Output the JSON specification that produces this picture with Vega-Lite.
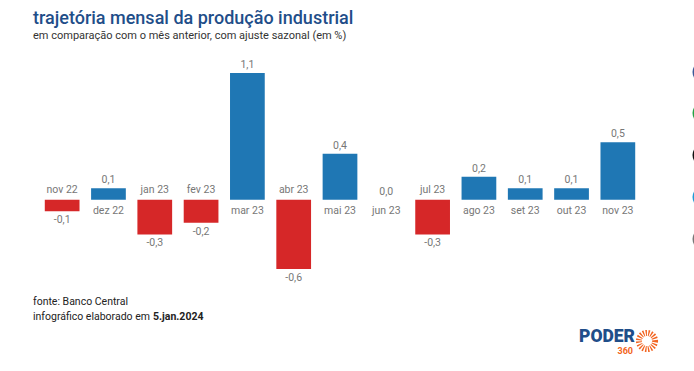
{
  "$schema": "https://vega.github.io/schema/vega-lite/v6.json",
  "autosize": {"type": "none"},
  "width": 602,
  "height": 242,
  "padding": {"left": 39, "top": 50, "right": 53, "bottom": 79},
  "background": "#ffffff",
  "config": {
    "view": {"stroke": null},
    "font": "Roboto",
    "locale": {"number": {"decimal": ",", "thousands": ".", "grouping": [3], "currency": ["R$", ""], "minus": "-"}}
  },
  "title": {
    "text": "trajetória mensal da produção industrial",
    "subtitle": "em comparação com o mês anterior, com ajuste sazonal (em %)",
    "anchor": "start",
    "frame": "group",
    "dx": -6,
    "offset": 9,
    "font": "Roboto",
    "fontSize": 18,
    "fontWeight": 500,
    "color": "#1f4e89",
    "subtitleFont": "Roboto",
    "subtitleFontSize": 11,
    "subtitleColor": "#333333",
    "subtitlePadding": 2
  },
  "layer": [
    {
      "data": {"values": [
        {"m": "nov 22", "v": -0.1},
        {"m": "dez 22", "v": 0.1},
        {"m": "jan 23", "v": -0.3},
        {"m": "fev 23", "v": -0.2},
        {"m": "mar 23", "v": 1.1},
        {"m": "abr 23", "v": -0.6},
        {"m": "mai 23", "v": 0.4},
        {"m": "jun 23", "v": 0.0},
        {"m": "jul 23", "v": -0.3},
        {"m": "ago 23", "v": 0.2},
        {"m": "set 23", "v": 0.1},
        {"m": "out 23", "v": 0.1},
        {"m": "nov 23", "v": 0.5}
      ]},
      "encoding": {
        "x": {"field": "m", "type": "nominal", "sort": null,
              "scale": {"paddingInner": 0.25, "paddingOuter": 0.125},
              "axis": null}
      },
      "layer": [
        {
          "mark": {"type": "bar"},
          "encoding": {
            "y": {"field": "v", "type": "quantitative", "scale": {"domain": [-0.8, 1.3], "nice": false, "zero": true}, "axis": null},
            "y2": {"datum": 0},
            "color": {"condition": {"test": "datum.v < 0", "value": "#d62728"}, "value": "#1f77b4"}
          }
        },
        {
          "transform": [{"filter": "datum.v >= 0"}],
          "layer": [
            {
              "mark": {"type": "text", "baseline": "bottom", "dy": -3, "fontSize": 10.5, "color": "#777777"},
              "encoding": {
                "y": {"field": "v", "type": "quantitative"},
                "text": {"field": "v", "type": "quantitative", "format": ".1f"}
              }
            },
            {
              "mark": {"type": "text", "baseline": "top", "dy": 6, "fontSize": 10.5, "color": "#777777"},
              "encoding": {
                "y": {"datum": 0, "type": "quantitative"},
                "text": {"field": "m"}
              }
            }
          ]
        },
        {
          "transform": [{"filter": "datum.v < 0"}],
          "layer": [
            {
              "mark": {"type": "text", "baseline": "top", "dy": 4, "fontSize": 10.5, "color": "#777777"},
              "encoding": {
                "y": {"field": "v", "type": "quantitative"},
                "text": {"field": "v", "type": "quantitative", "format": ".1f"}
              }
            },
            {
              "mark": {"type": "text", "baseline": "bottom", "dy": -5, "fontSize": 10.5, "color": "#777777"},
              "encoding": {
                "y": {"datum": 0, "type": "quantitative"},
                "text": {"field": "m"}
              }
            }
          ]
        }
      ]
    },
    {
      "data": {"values": [
        {"t": "fonte: Banco Central", "px": -6, "py": 255},
        {"t": "infográfico elaborado em", "px": -6, "py": 270}
      ]},
      "mark": {"type": "text", "align": "left", "baseline": "alphabetic", "fontSize": 10.5, "color": "#222222"},
      "encoding": {
        "text": {"field": "t"},
        "x": {"field": "px", "type": "quantitative", "scale": null},
        "y": {"field": "py", "type": "quantitative", "scale": null}
      }
    },
    {
      "data": {"values": [{"t": "5.jan.2024"}]},
      "mark": {"type": "text", "align": "left", "baseline": "alphabetic", "fontSize": 10.5, "fontWeight": "bold", "color": "#222222", "x": 114, "y": 270},
      "encoding": {"text": {"field": "t"}}
    },
    {
      "data": {"values": [{"t": "PODER"}]},
      "mark": {"type": "text", "align": "right", "baseline": "alphabetic", "fontSize": 17.5, "fontWeight": 900, "color": "#1f4e89", "x": 596, "y": 292},
      "encoding": {"text": {"field": "t"}}
    },
    {
      "data": {"values": [{"t": "360"}]},
      "mark": {"type": "text", "align": "right", "baseline": "alphabetic", "fontSize": 9, "fontWeight": "bold", "color": "#f26522", "x": 594, "y": 304},
      "encoding": {"text": {"field": "t"}}
    },
    {
      "data": {"values": [{"t": "sol"}]},
      "mark": {"type": "point", "shape": "circle", "filled": false, "stroke": "#f26522", "strokeWidth": 6, "strokeDash": [1.3, 1.3], "size": 260, "x": 608, "y": 291, "opacity": 1},
      "encoding": {}
    },
    {
      "data": {"values": [
        {"n": "a", "c": "#3b5998", "py": 22},
        {"n": "b", "c": "#25a244", "py": 63},
        {"n": "c", "c": "#111111", "py": 105},
        {"n": "d", "c": "#1d9bd7", "py": 147},
        {"n": "e", "c": "#777777", "py": 189}
      ]},
      "mark": {"type": "point", "shape": "circle", "filled": true, "size": 484, "opacity": 1, "x": 664.5},
      "encoding": {
        "y": {"field": "py", "type": "quantitative", "scale": null},
        "color": {"field": "c", "type": "nominal", "scale": null, "legend": null}
      }
    }
  ]
}
